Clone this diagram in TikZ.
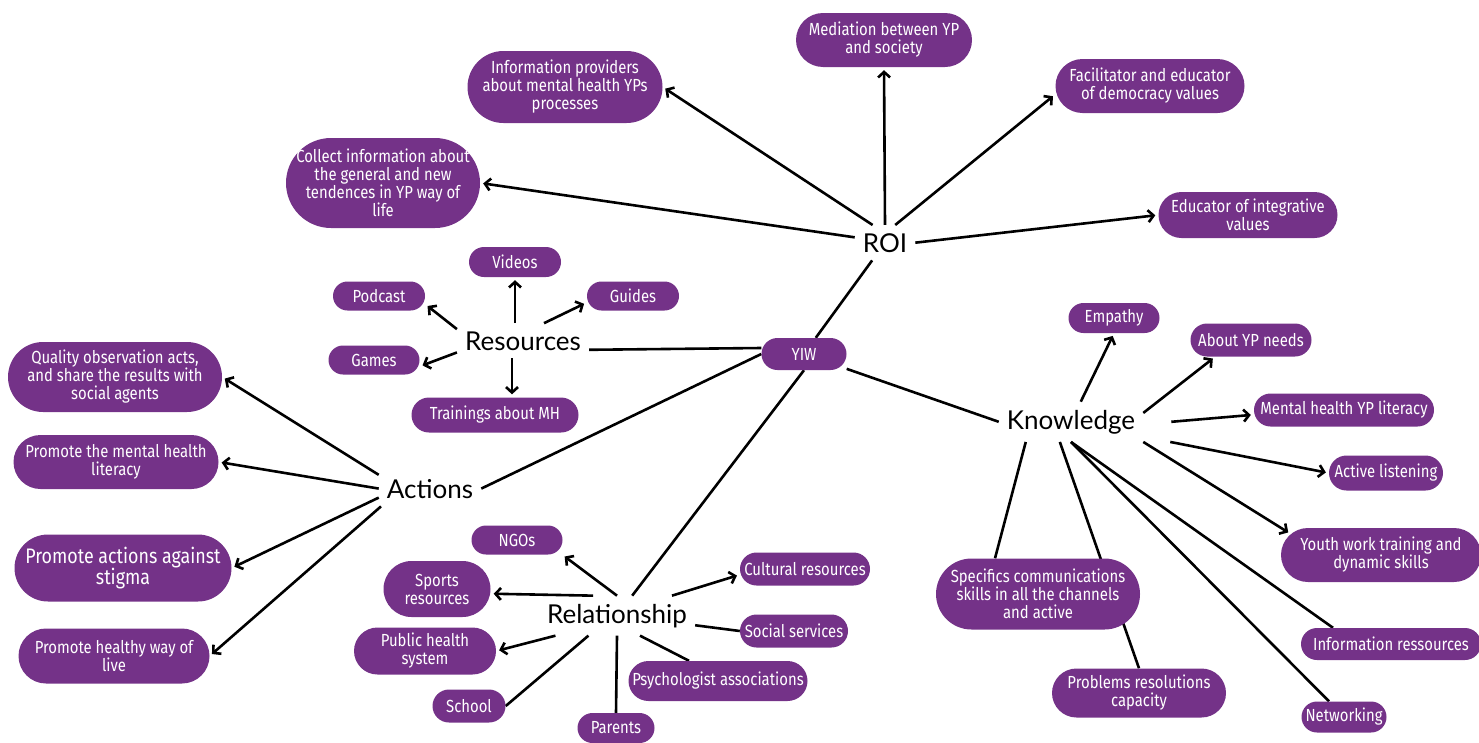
\documentclass[tikz,border=0pt]{standalone}
\usepackage{fontspec}
\usepackage{tikz}
\usetikzlibrary{arrows.meta}
\newfontfamily\pillfont[FakeStretch=0.85]{Fira Sans}
\newfontfamily\hubfont{Lato}
\definecolor{pillpurple}{RGB}{116,50,136}
\pgfdeclarelayer{background}
\pgfsetlayers{background,main}

\begin{document}
\begin{tikzpicture}[x=1pt, y=-1pt,
	pill/.style 2 args={fill=pillpurple, text=white, align=center, inner sep=2pt,
		minimum width=#1pt, minimum height=#2pt, rounded corners=0.5*#2pt,
		font=\pillfont\fontsize{17.5}{18}\selectfont},
	hub/.style={inner sep=8pt, anchor=base, font=\hubfont\fontsize{26}{30}\selectfont},
	link/.style={line width=2.6pt},
	arr/.style={link, -{Straight Barb[length=5.5pt, width=12pt]}, shorten >=3pt}]
	
	\useasboundingbox (0,0) rectangle (1479,742);
	
	\node[hub] (roi) at (885,252) {ROI}; % ROI
	\node[pill={176}{54}] (med) at (884,40) {Mediation between YP\\and society};
	\node[pill={195}{72}] (info) at (565,87) {Information providers\\about mental health YPs\\processes};
	\node[pill={189}{54}] (faci) at (1150,86) {Facilitator and educator\\of democracy values};
	\node[pill={194}{90}] (coll) at (383,183) {Collect information about\\the general and new\\tendences in YP way of\\life};
	\node[pill={179}{46}] (edu) at (1248,215) {Educator of integrative\\values};
	
	\node[pill={85}{32}] (yiw) at (804,354) {YIW}; % YIW
	
	\node[hub] (res) at (523,350) {Resources}; % Resources
	\node[pill={92}{30}] (vid) at (515,262) {Videos};
	\node[pill={92}{29}] (pod) at (379,296) {Podcast};
	\node[pill={92}{29}] (gui) at (633,296) {Guides};
	\node[pill={91}{29}] (gam) at (374,360) {Games};
	\node[pill={167}{35}] (tra) at (495,415) {Trainings about MH};
	
	\node[hub] (act) at (430,498) {Actions}; % Actions
	\node[pill={214}{70}] (qual) at (115,377) {Quality observation acts,\\and share the results with\\social agents};
	\node[pill={205}{54}] (lit) at (116,462) {Promote the mental health\\literacy};
	\node[pill={217}{67}, font=\pillfont\fontsize{21}{21}\selectfont] (stig) at (123,568) {Promote actions against\\stigma};
	\node[pill={191}{55}] (heal) at (114,656) {Promote healthy way of\\live};
	
	\node[hub] (rel) at (617,623) {Relationship}; % Relationship
	\node[pill={91}{29}] (ngo) at (517,540) {NGOs};
	\node[pill={107}{56}] (spo) at (437,589) {Sports\\resources};
	\node[pill={142}{47}] (pub) at (425,651) {Public health\\system};
	\node[pill={73}{33}] (sch) at (469,706) {School};
	\node[pill={77}{30}] (par) at (616,728) {Parents};
	\node[pill={179}{40}] (psy) at (718,681) {Psychologist associations};
	\node[pill={130}{33}] (cul) at (805,569) {Cultural resources};
	\node[pill={108}{33}] (soc) at (794,631) {Social services};
	
	\node[hub] (kno) at (1071,429) {Knowledge}; % Knowledge
	\node[pill={91}{30}] (emp) at (1114,318) {Empathy};
	\node[pill={121}{33}] (abo) at (1251,340) {About YP needs};
	\node[pill={180}{33}] (men) at (1344,410) {Mental health YP literacy};
	\node[pill={114}{35}] (lis) at (1386,473) {Active listening};
	\node[pill={200}{54}] (you) at (1381,555) {Youth work training and\\dynamic skills};
	\node[pill={180}{32}] (inf) at (1391,644) {Information ressources};
	\node[pill={85}{31}] (net) at (1344,717) {Networking};
	\node[pill={204}{71}] (spe) at (1038,594) {Specifics communications\\skills in all the channels\\and active};
	\node[pill={174}{49}] (pro) at (1139,693) {Problems resolutions\\capacity};
	
	\begin{pgfonlayer}{background}
		\draw[arr] (roi.north) -- (med.south); % ROI
		\draw[arr] (roi.60) -- (faci.185);
		\draw[arr] (roi.east) -- (edu.west);
		\draw[arr] (roi.125) -- (info.east);
		\draw[arr] (roi.170) -- (coll.east);
		\draw[link] (roi) -- (yiw);
		
		\draw[arr] (res.north -| vid.south) -- (vid.south); % Resources
		\draw[arr] (res.170) -- (pod.-10);
		\draw[arr] (res.40) -- (gui.188);
		\draw[arr] (res.190) -- (gam.-8);
		\draw[arr] ([xshift=-11pt]res.south) -- ([xshift=17pt]tra.north);
		\draw[link] ([yshift=-9pt]res.east) -- ([yshift=6pt]yiw.west);
		
		\draw[arr] (act.165) -- (qual.east); % Actions
		\draw[arr] (act.west) -- (lit.east);
		\draw[arr] (act.190) -- (stig.east);
		\draw[arr] (act.200) -- (heal.east);
		\draw[link] (act.east) -- (yiw.west);
		
		\draw[arr] (rel.north) -- (ngo.-18); % Relationship
		\draw[arr] (rel.140) -- (spo.-5);
		\draw[arr] (rel.198) -- (pub.east);
		\draw[link] (rel.215) -- (sch.east);
		\draw[link] (rel.south) -- (par.north);
		\draw[link] (rel.-41) -- ([xshift=-29pt]psy.north);
		\draw[arr] (rel.20) -- (cul.185);
		\draw[link] (rel.-7) -- (soc.west);
		\draw[link] (rel) -- (yiw.south);
		
		\draw[arr] (kno) -- (emp.south); % Knowledge
		\draw[arr] (kno.7) -- (abo.205);
		\draw[arr] ([xshift=28pt]kno.east) -- (men.183);
		\draw[arr] ([xshift=27pt]kno.south east) -- (lis.west);
		\draw[arr] (kno.south east) -- ([shift={(10pt,21pt)}]you.west);
		\draw[link] (kno.south) -- ([xshift=-58pt]inf.north);
		\draw[link] (kno.south) -- ([xshift=-15pt]net.north);
		\draw[link] (kno.204) -- ([xshift=-43pt]spe.north);
		\draw[link] (kno.241) -- (pro.north);
		\draw[link] (yiw) -- (kno.west);
	\end{pgfonlayer}
	
\end{tikzpicture}
\end{document}
